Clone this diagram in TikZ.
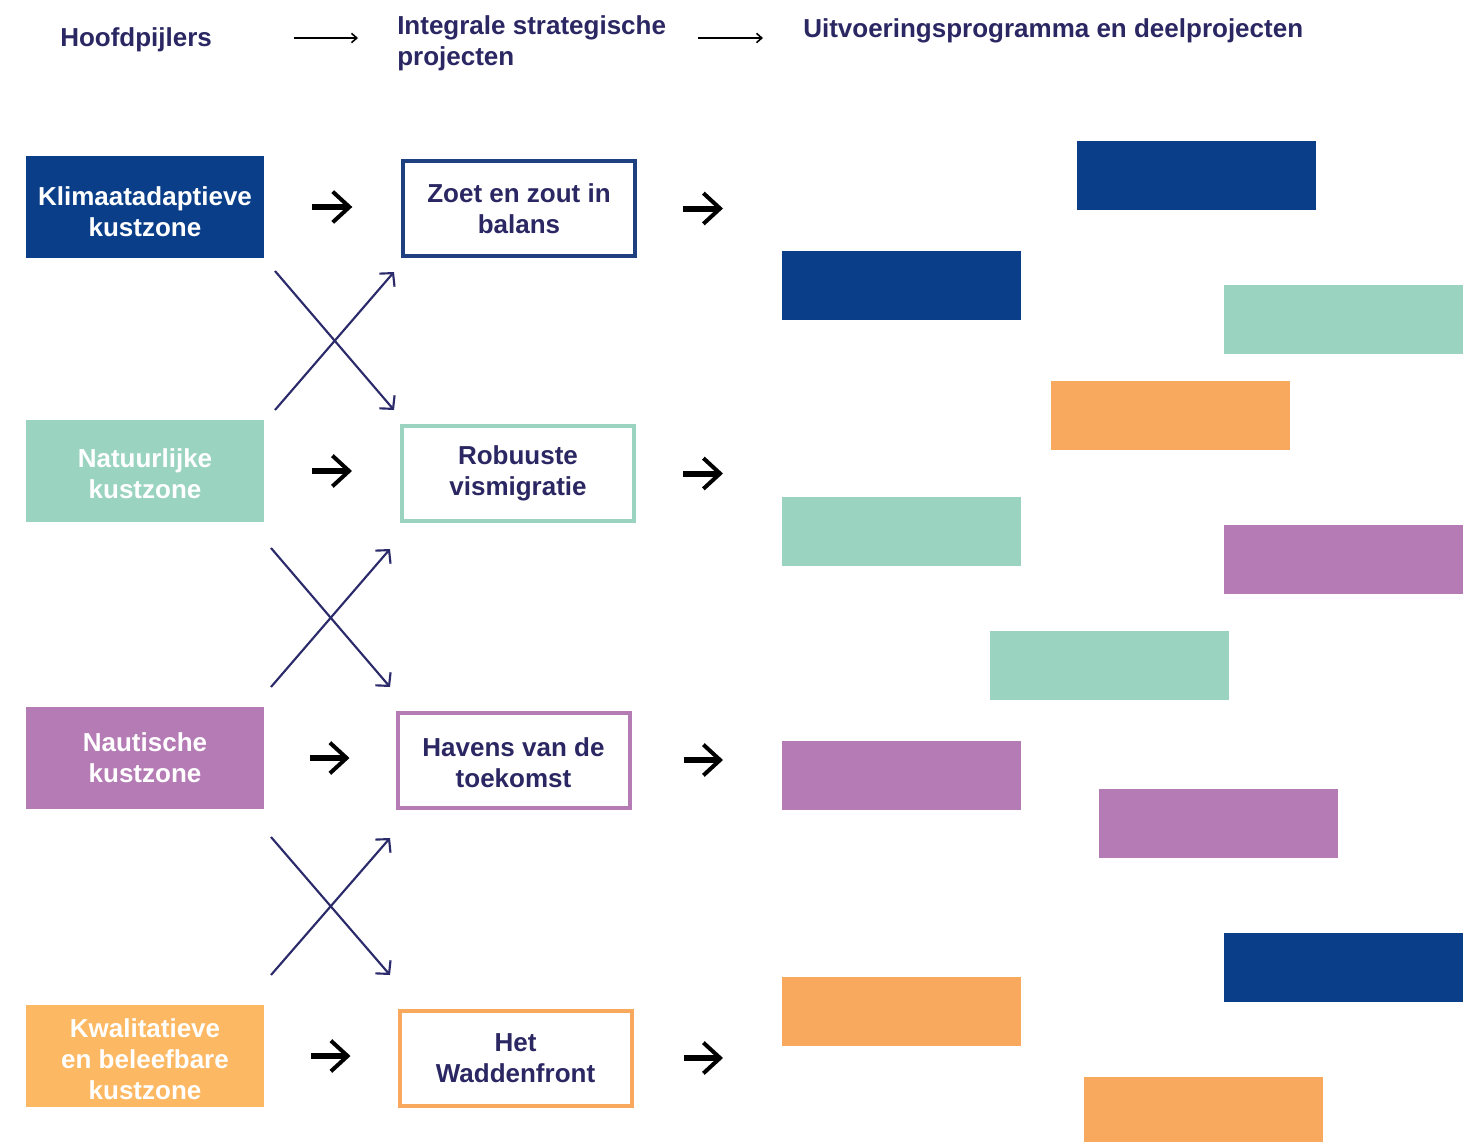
\documentclass[tikz,border=0pt]{standalone}
\usepackage{fontspec}
\setmainfont{Liberation Sans}
\usetikzlibrary{arrows.meta}
\definecolor{navytext}{HTML}{2A2763}
\definecolor{cblue}{HTML}{0A3E89}
\definecolor{cblueline}{HTML}{1E3F80}
\definecolor{cteal}{HTML}{9AD4C0}
\definecolor{cpurple}{HTML}{B47BB4}
\definecolor{corange}{HTML}{F8A95E}
\definecolor{corangeL}{HTML}{FDB863}
\definecolor{crossc}{HTML}{2B2A6B}
\tikzset{
  txt/.style={font=\fontsize{19.5pt}{23.25pt}\selectfont\bfseries},
  hdr/.style={txt, text=navytext, inner sep=0pt},
  pillar/.style={txt, text=white, align=center, minimum width=178.5pt, minimum height=76.5pt, inner sep=0pt},
  plabel/.style={txt, text=white, align=center, inner sep=0pt},
  proj/.style={txt, text=navytext, align=center, fill=white, line width=3pt, minimum width=174pt, minimum height=71.25pt, inner sep=0pt},
  mlabel/.style={txt, text=navytext, align=center, inner sep=0pt},
  part/.style={minimum width=179.25pt, minimum height=51.75pt, inner sep=0pt, draw=none},
  bigarrow/.style={draw=black, line width=4.5pt, -{Straight Barb[length=12.5pt,width=23pt,line width=3pt]}},
  crossarrow/.style={draw=crossc, line width=1.6pt, -{Straight Barb[length=7pt,width=15pt,line width=1.6pt]}},
  hdrarrow/.style={draw=black, line width=1.2pt, -{Straight Barb[length=4pt,width=7pt,line width=1.2pt]}}
}
\begin{document}
\begin{tikzpicture}[x=0.75pt,y=-0.75pt]
\clip (0,0) rectangle (1471,1142);
\fill[white] (0,0) rectangle (1471,1142);

% headers
\node[hdr, anchor=west] (h1) at (60,40) {Hoofdpijlers};
\node[hdr, anchor=west, align=left] (h2) at (397,43.5) {Integrale strategische\\projecten};
\node[hdr, anchor=west] (h3) at (803,31) {Uitvoeringsprogramma en deelprojecten};
\coordinate (ha1s) at (294,38);
\coordinate (ha1e) at (358,38);
\coordinate (ha2s) at (698,38);
\coordinate (ha2e) at (763,38);
\draw[hdrarrow] (ha1s) -- (ha1e);
\draw[hdrarrow] (ha2s) -- (ha2e);

% pillars
\node[pillar, fill=cblue, label={[plabel, yshift=-3.75pt]center:{Klimaatadaptieve\\kustzone}}] (L1) at (145,207) {};
\node[pillar, fill=cteal, label={[plabel, yshift=-2.25pt]center:{Natuurlijke\\kustzone}}] (L2) at (145,471) {};
\node[pillar, fill=cpurple] (L3) at (145,758) {Nautische\\kustzone};
\node[pillar, fill=corangeL, label={[plabel, yshift=-2.25pt]center:{Kwalitatieve\\en beleefbare\\kustzone}}] (L4) at (145,1056) {};

% projects
\node[proj, draw=cblueline] (M1) at (519,208.5) {Zoet en zout in\\balans};
\node[proj, draw=cteal] (M2) at (518,473.5) {Robuuste\\vismigratie};
\node[proj, draw=cpurple, label={[mlabel, yshift=-2.25pt]center:{Havens van de\\toekomst}}] (M3) at (513.5,760) {};
\node[proj, draw=corange] (M4) at (515.5,1058) {Het\\Waddenfront};

% arrows pillar -> project
\draw[bigarrow, shorten <=36pt, shorten >=36.5pt] (L1.east) -- (L1.east -| M1.west);
\draw[bigarrow, shorten <=36pt, shorten >=36pt] (L2.east) -- (L2.east -| M2.west);
\draw[bigarrow, shorten <=34.5pt, shorten >=34.5pt] (L3.east) -- (L3.east -| M3.west);
\draw[bigarrow, shorten <=35.25pt, shorten >=35.25pt] (L4.east) -- (L4.east -| M4.west);

% arrows project -> parts
\coordinate (R1) at (723,210);
\coordinate (R2) at (723,475);
\coordinate (R3) at (723,758);
\coordinate (R4) at (723,1057);
\draw[bigarrow, shorten <=34.5pt] (M1.east) -- (M1.east -| R1);
\draw[bigarrow, shorten <=35.25pt] (M2.east) -- (M2.east -| R2);
\draw[bigarrow, shorten <=39pt] (M3.east) -- (M3.east -| R3);
\draw[bigarrow, shorten <=37.5pt] (M4.east) -- (M4.east -| R4);

% crosses
\coordinate (c1a) at (275,271);  \coordinate (c1b) at (394,410);
\coordinate (c1c) at (275,410);  \coordinate (c1d) at (394,272);
\coordinate (c2a) at (271,548);  \coordinate (c2b) at (390,687);
\coordinate (c2c) at (271,687);  \coordinate (c2d) at (390,549);
\coordinate (c3a) at (271,837);  \coordinate (c3b) at (390,975);
\coordinate (c3c) at (271,975);  \coordinate (c3d) at (390,838);
\draw[crossarrow] (c1a) -- (c1b);
\draw[crossarrow] (c1c) -- (c1d);
\draw[crossarrow] (c2a) -- (c2b);
\draw[crossarrow] (c2c) -- (c2d);
\draw[crossarrow] (c3a) -- (c3b);
\draw[crossarrow] (c3c) -- (c3d);

% parts
\node[part, fill=cblue] (b1) at (1196,175) {};
\node[part, fill=cblue] (b2) at (901,285) {};
\node[part, fill=cteal] (t1) at (1343,319) {};
\node[part, fill=corange] (o1) at (1170,415) {};
\node[part, fill=cteal] (t2) at (901,531) {};
\node[part, fill=cpurple] (p1) at (1343,559) {};
\node[part, fill=cteal] (t3) at (1109,665) {};
\node[part, fill=cpurple] (p2) at (901,775) {};
\node[part, fill=cpurple] (p3) at (1218,823) {};
\node[part, fill=cblue] (b3) at (1343,967) {};
\node[part, fill=corange] (o2) at (901,1011) {};
\node[part, fill=corange] (o3) at (1203,1111) {};
\end{tikzpicture}
\end{document}
